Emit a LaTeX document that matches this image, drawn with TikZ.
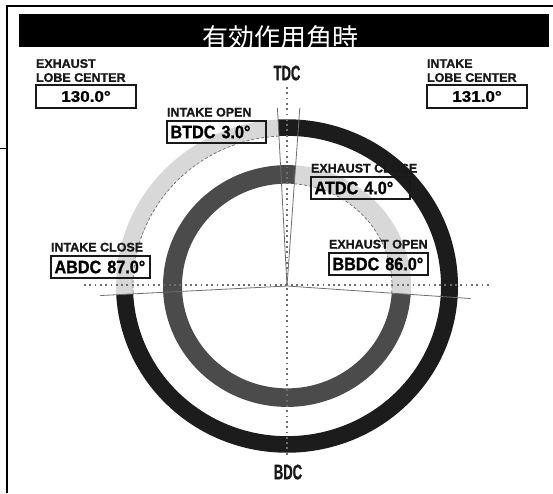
\documentclass[tikz,border=0pt]{standalone}
\usepackage{fontspec}
\usetikzlibrary{positioning}
\newfontfamily\cjk{Noto Sans CJK JP}
\newfontfamily\lblfont[FakeBold=1.2]{Liberation Sans Bold}
\newfontfamily\valfont[FakeStretch=0.9, FakeBold=1]{Liberation Sans Bold}
\newfontfamily\lobefont[FakeStretch=1.1, FakeBold=0.8]{Liberation Sans Bold}
\newfontfamily\dcfont[FakeStretch=0.62, FakeBold=1]{Liberation Sans Bold}
\definecolor{ringblack}{HTML}{1C1C1C}
\definecolor{ringdark}{HTML}{4B4B4B}
\definecolor{ringlight}{HTML}{D8D8D8}
\definecolor{linegray}{HTML}{6E6E6E}
\begin{document}
\begin{tikzpicture}[x=1pt, y=-1pt, line width=1pt]
\useasboundingbox (0,0) rectangle (553,493);
% Styles
\tikzstyle{lbl}=[inner sep=0pt, outer sep=0pt, text=black!90, align=left, font=\lblfont\fontsize{12.5}{14}\selectfont]
\tikzstyle{val}=[draw=black!90, line width=1.6pt, inner xsep=3.5pt, inner ysep=0pt, outer sep=0pt, text width=92pt, minimum height=22pt, align=left, anchor=north west, font=\valfont\fontsize{18}{18}\selectfont]
\tikzstyle{lobe}=[val, text width=93pt, minimum height=23pt, align=center, font=\lobefont\fontsize{15.5}{15.5}\selectfont]
\tikzstyle{dc}=[inner sep=0pt, text=black!90, font=\dcfont\fontsize{21}{21}\selectfont]
\tikzstyle{ray}=[draw=linegray, line width=0.8pt]
\tikzstyle{dots}=[draw=linegray, line width=1.8pt, dash pattern=on 1.8pt off 3.5pt]
\tikzstyle{dashline}=[draw=linegray, line width=0.7pt, dash pattern=on 3pt off 2pt]
% Frame and title
\draw[line width=2pt] (7,493) -- (7,6) -- (553,6);
\draw[line width=0.8pt] (0,148) -- (7,148);
\node[fill=black, inner sep=0pt, minimum width=530pt, minimum height=33pt, anchor=north west] (bar) at (18,13) {};
\node[anchor=base, inner sep=0pt, text=white, font=\cjk\fontsize{26}{26}\selectfont] (title) at (280,47.5) {有効作用角時};
% Lobe centers
\node[lobe] (exl) at (36,85) {130.0°};
\node[lbl, anchor=south west] (exlt) at ([yshift=3pt]exl.north west) {EXHAUST\\LOBE CENTER};
\node[lobe] (inl) at (427,85) {131.0°};
\node[lbl, anchor=south west] (inlt) at ([yshift=3pt]inl.north west) {INTAKE\\LOBE CENTER};
% Rings
\begin{scope}[shift={(287,286)}, yscale=-0.975]
\coordinate (c) at (0,0);
\fill[ringblack] (93:171) arc[start angle=93, end angle=-177, radius=171] -- (-177:154) arc[start angle=-177, end angle=93, radius=154] -- cycle;
\fill[ringlight] (93:171) arc[start angle=93, end angle=183, radius=171] -- (183:154) arc[start angle=183, end angle=93, radius=154] -- cycle;
\draw[dashline] (93:154) arc[start angle=93, end angle=183, radius=154];
\fill[ringdark] (86:124) arc[start angle=86, end angle=356, radius=124] -- (356:105) arc[start angle=356, end angle=86, radius=105] -- cycle;
\fill[ringlight] (-4:124) arc[start angle=-4, end angle=86, radius=124] -- (86:105) arc[start angle=86, end angle=-4, radius=105] -- cycle;
\draw[dashline] (-4:105) arc[start angle=-4, end angle=86, radius=105];
% Event rays
\coordinate (io) at (93:183);
\coordinate (ec) at (86:183);
\coordinate (ic) at (183:187);
\coordinate (eo) at (-4:184);
\draw[ray] (c) -- (io);
\draw[ray] (c) -- (ec);
\draw[ray] (c) -- (ic);
\draw[ray] (c) -- (eo);
\end{scope}
% Dotted axes
\coordinate (vtop) at (287,87);
\coordinate (vbot) at (287,456);
\coordinate (hl) at (84,285);
\coordinate (hr) at (491,285);
\draw[dots] (vtop) -- (vbot);
\draw[dots] (hl) -- (hr);
\node[dc] (tdc) at (287,73) {TDC};
\node[dc] (bdc) at (288,472) {BDC};
% Event boxes
\node[val] (iob) at (167,121) {BTDC 3.0°};
\node[lbl, anchor=base west] (iot) at ([yshift=4.5pt]iob.north west) {INTAKE OPEN};
\node[val] (ecb) at (311,177) {ATDC 4.0°};
\node[lbl, anchor=base west] (ect) at ([yshift=4.5pt]ecb.north west) {EXHAUST CLOSE};
\node[val] (icb) at (51,256) {ABDC 87.0°};
\node[lbl, anchor=base west] (ict) at ([yshift=4.5pt]icb.north west) {INTAKE CLOSE};
\node[val] (eob) at (329,253) {BBDC 86.0°};
\node[lbl, anchor=base west] (eot) at ([yshift=4.5pt]eob.north west) {EXHAUST OPEN};
\end{tikzpicture}
\end{document}
